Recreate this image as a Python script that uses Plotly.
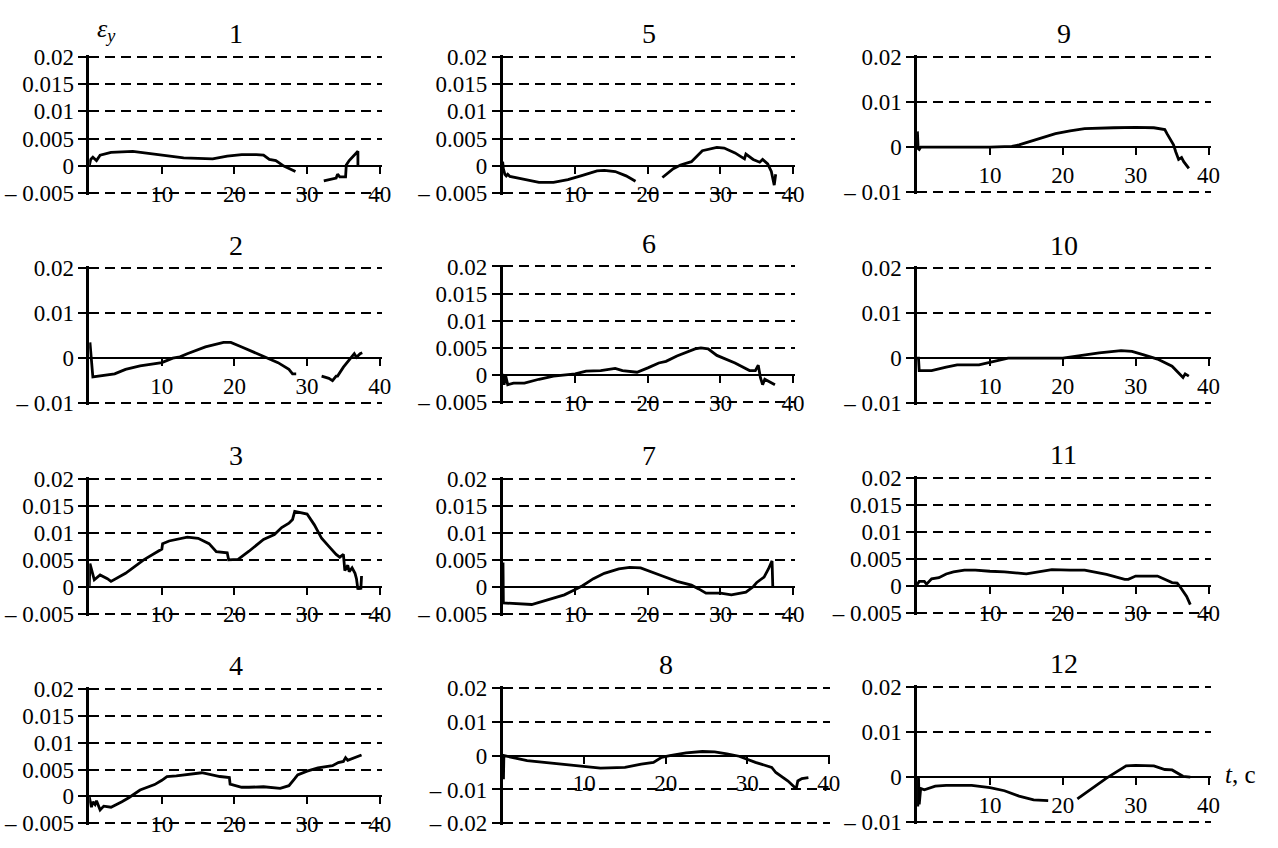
import plotly.graph_objects as go

W, H = 1278, 848

# ---------------- data ----------------
t1 = [0, 0.2, 0.5, 1.0, 1.5, 3, 6, 10, 13, 15, 17, 19, 21, 23, 24, 24.8, 25.7, 26.8, 28.4, None,
      32.3, 33, 34, 34.2, 34.5, 35.3, 35.4, 35.8, 37.0, 37.0]
e1 = [0, 0.0012, 0.0016, 0.001, 0.002, 0.0025, 0.0027, 0.002, 0.0015, 0.0014, 0.0013, 0.0018, 0.0021,
      0.0021, 0.002, 0.0012, 0.001, 0, -0.001, None,
      -0.0027, -0.0025, -0.0022, -0.0015, -0.002, -0.002, 0.0002, 0.001, 0.0027, 0.0]

t2 = [0.1, 0.5, 3.5, 5, 7, 10, 11.5, 12.5, 13.5, 16, 18.5, 19.5, 21, 24.5, 26, 27.5, 28, 28.5, None,
      32, 33, 33.5, 34, 34.2, 35, 36, 36.5, 36.8, 37.3, 37.6]
e2 = [0.0035, -0.0042, -0.0035, -0.0025, -0.0017, -0.001, 0, 0.0003, 0.001, 0.0025, 0.0035, 0.0035,
      0.0025, 0, -0.001, -0.0025, -0.0035, -0.0035, None,
      -0.004, -0.0045, -0.005, -0.004, -0.004, -0.002, 0, 0.001, 0.0002, 0.001, 0.0012]

t3 = [0, 0.1, 0.7, 1.5, 2.5, 3, 5, 7.5, 10, 10.1, 11, 13.5, 15, 16.5, 17.5, 19, 19.2, 20.5, 22, 24,
      25.5, 26.5, 27.5, 28, 28.3, 30, 31, 32, 33, 34, 34.5, 35, 35.2, 35.6, 35.8, 36.2, 36.6, 36.8,
      37, 37.2, 37.4, 37.5]
e3 = [0, 0.0043, 0.0013, 0.0022, 0.0015, 0.001, 0.0025, 0.005, 0.007, 0.008, 0.0085, 0.0092, 0.009,
      0.008, 0.0065, 0.0063, 0.005, 0.0051, 0.0066, 0.0088, 0.0097, 0.011, 0.0118, 0.0125, 0.014,
      0.0135, 0.0115, 0.009, 0.0075, 0.006, 0.0055, 0.006, 0.003, 0.004, 0.0028, 0.0035, 0.0025,
      0.0015, -0.0005, 0.0, -0.0005, 0.002]

t4 = [0, 0.3, 0.5, 0.8, 1, 1.5, 2, 3, 4.5, 5.5, 7, 9, 10, 10.7, 12, 15.5, 18, 19.3, 19.4, 21, 22, 24,
      26.3, 27.5, 28.3, 28.7, 30, 31.5, 33.5, 34.3, 35, 35.3, 35.6, 37.5]
e4 = [0, -0.002, -0.001, -0.0015, -0.0008, -0.0025, -0.0018, -0.002, -0.001, -0.0002, 0.0012,
      0.0022, 0.003, 0.0037, 0.0038, 0.0044, 0.0037, 0.0035, 0.0023, 0.0017, 0.0017, 0.0018, 0.0015,
      0.002, 0.0033, 0.004, 0.0047, 0.0053, 0.0057, 0.0063, 0.0065, 0.0072, 0.0067, 0.0077]

t5 = [0, 0.1, 0.3, 0.5, 0.7, 1, 2.5, 4, 5, 7, 9, 11, 13, 14, 15.5, 17, 18.3, None,
      22, 23.5, 24.5, 26, 27.5, 29.5, 30.5, 32, 33.3, 33.5, 34.5, 35.4, 35.8, 36.5, 37, 37.4, 37.6]
e5 = [0.0008, -0.0005, -0.0015, -0.0018, -0.0015, -0.0019, -0.0023, -0.0028, -0.003, -0.003,
      -0.0025, -0.0017, -0.0009, -0.0008, -0.001, -0.0018, -0.0028, None,
      -0.0021, -0.0005, 0.0002, 0.0008, 0.0028, 0.0034, 0.0033, 0.0024, 0.0013, 0.0022, 0.0012,
      0.0007, 0.0012, 0.0004, -0.001, -0.0035, -0.0015]

t6 = [0, 0.2, 0.4, 0.7, 1.5, 3, 5, 7, 10, 11.5, 13.5, 15, 15.5, 16.5, 18.5, 20, 21.5, 22.5, 24, 26.5,
      27.3, 28.3, 29.5, 32, 34, 34.8, 35.2, 35.5, 35.8, 36.1, 36.6, 37.3, 37.5]
e6 = [0.0002, -0.0018, 0, -0.0018, -0.0015, -0.0015, -0.0008, -0.0002, 0.0002, 0.0007, 0.0008,
      0.001, 0.0012, 0.0008, 0.0005, 0.0013, 0.0022, 0.0025, 0.0035, 0.0048, 0.005, 0.0048, 0.0036,
      0.0022, 0.0008, 0.0008, 0.0018, -0.0005, -0.0018, -0.0008, -0.0012, -0.0018, -0.0018]

t7 = [0.05, 0.1, 4, 6, 8.5, 10, 11, 12.5, 14, 16, 17.5, 19, 20.5, 22, 24, 26, 27, 28, 30, 31.5, 33.5,
      34.5, 35, 36, 36.6, 37.1, 37.2]
e7 = [0.0045, -0.003, -0.0033, -0.0025, -0.0015, -0.0005, 0.0002, 0.0015, 0.0025, 0.0033, 0.0036,
      0.0035, 0.0028, 0.002, 0.001, 0.0003, -0.0004, -0.0012, -0.0012, -0.0015, -0.001, 0, 0.0008,
      0.0018, 0.0033, 0.0048, 0]

t8 = [0.1, 0.15, 3, 7, 10, 12, 15, 16, 17, 18.5, 19.5, 20.5, 22.5, 24.5, 26, 27.5, 29, 31, 33, 33.5,
      35, 36, 36.2, 36.7, 37.5]
e8 = [-0.007, 0, -0.0015, -0.0025, -0.0032, -0.0037, -0.0035, -0.003, -0.0025, -0.002, -0.0005, 0,
      0.0008, 0.0012, 0.0011, 0.0005, -0.0002, -0.002, -0.0035, -0.005, -0.0075, -0.0098, -0.0075,
      -0.0068, -0.0065]

t9 = [0.05, 0.15, 0.3, 0.5, 5, 10, 13, 14, 16, 19, 21, 23, 27, 30, 32.5, 34, 34.3, 35.2, 35.5, 35.9,
      36.3, 36.6, 37.3]
e9 = [0.0035, -0.0003, -0.0005, 0, 0, 0, 0.0002, 0.0005, 0.0015, 0.003, 0.0036, 0.0041, 0.0043,
      0.0044, 0.0043, 0.0039, 0.003, 0.0005, -0.001, -0.0027, -0.0023, -0.0032, -0.0047]

t10 = [0, 0.2, 0.3, 2, 4, 5.5, 8.5, 11, 12.5, 20, 22, 25, 28, 29.5, 31, 33, 35, 36.5, 36.8, 37.3]
e10 = [0, 0, -0.0028, -0.0028, -0.002, -0.0015, -0.0015, -0.0005, 0, 0, 0.0005, 0.0012, 0.0017,
       0.0015, 0.0008, -0.0002, -0.0018, -0.0043, -0.0035, -0.004]

t11 = [0, 0.3, 1, 1.3, 2, 3, 4, 5, 6.5, 8, 10, 12, 15, 17, 18.5, 21, 23, 26, 28.5, 29, 30, 33, 34,
       35, 35.7, 36, 37, 37.5]
e11 = [0.0002, 0.0008, 0.0008, 0.0003, 0.0013, 0.0015, 0.0022, 0.0026, 0.0029, 0.0029, 0.0027,
       0.0026, 0.0022, 0.0026, 0.003, 0.0029, 0.0029, 0.0021, 0.0012, 0.0012, 0.0018, 0.0018, 0.0012,
       0.0006, 0.0005, 0, -0.002, -0.0035]

t12 = [0.1, 0.2, 0.3, 0.5, 1, 2.5, 4, 7.5, 10, 12, 14, 16, 18, None,
       22, 24, 26, 28.7, 30, 32.5, 34, 35, 36.5, 37.5]
e12 = [-0.0065, 0, -0.006, -0.0025, -0.0028, -0.002, -0.0018, -0.0018, -0.0023, -0.003, -0.0042,
       -0.005, -0.0052, None,
       -0.0048, -0.0025, -0.0002, 0.0025, 0.0026, 0.0025, 0.0017, 0.0016, 0.0002, 0]

panel_titles = ["1", "2", "3", "4", "5", "6", "7", "8", "9", "10", "11", "12"]
x_ticks = [10, 20, 30, 40]
x_tick_text = ["10", "20", "30", "40"]
y_ticks_a = [-0.005, 0, 0.005, 0.01, 0.015, 0.02]
y_text_a = ["\u2013 0.005", "0", "0.005", "0.01", "0.015", "0.02"]
y_ticks_b = [-0.01, 0, 0.01, 0.02]
y_text_b = ["\u2013 0.01", "0", "0.01", "0.02"]
y_ticks_c = [-0.02, -0.01, 0, 0.01, 0.02]
y_text_c = ["\u2013 0.02", "\u2013 0.01", "0", "0.01", "0.02"]

series = [(t1, e1), (t2, e2), (t3, e3), (t4, e4), (t5, e5), (t6, e6),
          (t7, e7), (t8, e8), (t9, e9), (t10, e10), (t11, e11), (t12, e12)]
tick_sets = ["a", "b", "a", "a", "a", "a", "a", "c", "b", "b", "a", "b"]

# ---------------- layout geometry (pixels) ----------------
col_geom = {1: (90, 383, 40.3), 2: (507, 800, 40.3), 3: (925, 1219, 40.3)}
p8_geom = (507, 836, 40.1)
row_geom = {
    1: (48, 188), 2: (265, 403), 3: (481, 619), 4: (696, 834),
    5: (48, 188), 6: (263, 402), 7: (481, 619), 8: (695, 834),
    9: (48, 187), 10: (265, 403), 11: (480, 618), 12: (694, 833),
}

FONT = "Liberation Serif, Times New Roman, serif"
TICK_SIZE = 23
TITLE_SIZE = 28

fig = go.Figure()
annotations = []
layout = {}

for i in range(12):
    n = i + 1
    col = i // 4 + 1
    x0, x40, xmax = p8_geom if n == 8 else col_geom[col]
    ytop, ybot = row_geom[n]
    ts = tick_sets[i]
    if ts == "a":
        yt, ytext = y_ticks_a, y_text_a
    elif ts == "b":
        yt, ytext = y_ticks_b, y_text_b
    else:
        yt, ytext = y_ticks_c, y_text_c
    ymin, ymax = min(yt), max(yt)
    ppu_y = (ybot - ytop) / (ymax - ymin)
    pad = 2.0 / ppu_y
    r0, r1 = ymin - pad, ymax + pad
    top_px = ytop - 2.0
    bot_px = ybot + 2.0
    ppu_x = (x40 - x0) / 40.0
    xr_px = x0 + xmax * ppu_x

    xa = "xaxis" if n == 1 else f"xaxis{n}"
    ya = "yaxis" if n == 1 else f"yaxis{n}"
    xid = "x" if n == 1 else f"x{n}"
    yid = "y" if n == 1 else f"y{n}"

    zero_px = ytop + (ymax - 0) * ppu_y
    layout[xa] = dict(
        domain=[x0 / W, xr_px / W], range=[0, xmax], anchor="free",
        position=1 - zero_px / H, showgrid=False, zeroline=False,
        showline=True, linecolor="black", linewidth=2,
        tickmode="array", tickvals=x_ticks, ticktext=x_tick_text,
        ticks="outside", ticklen=7, tickwidth=2, tickcolor="black",
        tickfont=dict(family=FONT, size=TICK_SIZE, color="black"),
        fixedrange=True,
    )
    layout[ya] = dict(
        domain=[1 - bot_px / H, 1 - top_px / H], range=[r0, r1], anchor=xid,
        showgrid=True, gridcolor="black", gridwidth=2.2, griddash="10px,6px",
        zeroline=True, zerolinecolor="black", zerolinewidth=2,
        showline=True, linecolor="black", linewidth=2.5,
        tickmode="array", tickvals=yt, ticktext=ytext,
        ticks="outside", ticklen=8, tickwidth=2, tickcolor="black",
        tickfont=dict(family=FONT, size=TICK_SIZE, color="black"),
        fixedrange=True,
    )
    t, e = series[i]
    fig.add_trace(go.Scatter(x=t, y=e, mode="lines", xaxis=xid, yaxis=yid,
                             line=dict(color="black", width=2.8), connectgaps=False,
                             showlegend=False, hoverinfo="skip"))
    x_center = (x0 + xr_px) / 2.0
    annotations.append(dict(
        text=panel_titles[i], xref="paper", yref="paper",
        x=x_center / W, y=1 - (ytop - 24) / H, xanchor="center", yanchor="middle",
        showarrow=False, font=dict(family=FONT, size=TITLE_SIZE, color="black"),
    ))

annotations.append(dict(
    text="<i>\u03b5<sub>y</sub></i>", xref="paper", yref="paper",
    x=96 / W, y=1 - 20 / H, xanchor="left", yanchor="middle", showarrow=False,
    font=dict(family=FONT, size=26, color="black"),
))
annotations.append(dict(
    text="<i>t</i>, c", xref="paper", yref="paper",
    x=1234 / W, y=1 - 784 / H, xanchor="left", yanchor="middle", showarrow=False,
    font=dict(family=FONT, size=25, color="black"),
))

fig.update_layout(
    width=W, height=H, margin=dict(l=0, r=0, t=0, b=0),
    paper_bgcolor="white", plot_bgcolor="white",
    annotations=annotations, showlegend=False,
    **layout,
)

fig.write_html("out.html", config={"displayModeBar": False})
